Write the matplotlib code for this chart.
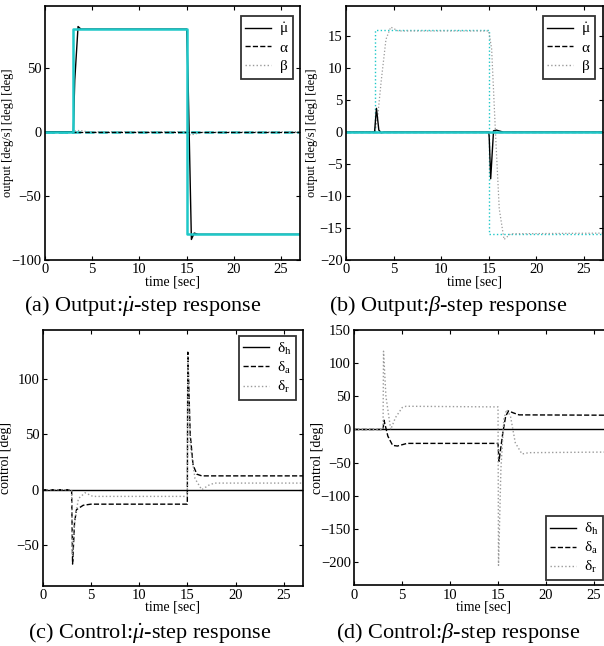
import numpy as np
import matplotlib
matplotlib.use("Agg")
import matplotlib.pyplot as plt
from matplotlib.lines import Line2D

plt.rcParams['font.family'] = ['Liberation Serif', 'DejaVu Serif']
plt.rcParams['mathtext.fontset'] = 'custom'
plt.rcParams['mathtext.rm'] = 'Liberation Serif'
plt.rcParams['mathtext.it'] = 'Liberation Serif:italic'

CYAN = '#1ec8c8'
GREY = '#9a9a9a'

# ---- (a) mu-dot step: references and responses
ref_t = [0, 3, 3, 15, 15, 27]
ref_mu_a = [0, 0, 80, 80, -80, -80]
zero_t = [0, 27]
zero_v = [0, 0]

mu_a_t = [0, 3.0, 3.15, 3.5, 3.8, 4.2, 15.0, 15.15, 15.5, 15.8, 16.2, 27]
mu_a_v = [0, 0, 40, 82, 80, 80, 80, 40, -84, -79, -80, -80]
al_a_t = [0, 27]
al_a_v = [0, 0]
be_a_t = [0, 3, 3.4, 3.8, 4.5, 15, 15.4, 15.8, 16.5, 27]
be_a_v = [0, 0, 1.0, 0.8, 0, 0, -2.5, -2.0, -0.5, 0]

# ---- (b) beta step
ref_be_b = [0, 0, 16, 16, -16, -16]
be_b_t = [0, 3, 3.3, 3.7, 4.2, 4.7, 5.5, 15, 15.3, 15.7, 16.1, 16.6, 17.3, 27]
be_b_v = [0, 0, 2, 8, 14.5, 16.4, 15.8, 15.8, 13, 0, -12, -16.8, -15.9, -15.8]
mu_b_t = [0, 3, 3.2, 3.45, 3.7, 4.0, 15, 15.05, 15.2, 15.5, 15.8, 16.5, 27]
mu_b_v = [0, 0, 3.7, 0.3, -0.1, 0, 0, -1, -7.3, 0.2, 0.3, 0, 0]
al_b_t = [0, 27]
al_b_v = [0, 0]

# ---- (c) controls, mu-dot step
dh_c_t = [0, 27]
dh_c_v = [0, 0]
da_c_t = [0, 3, 3.1, 3.3, 3.5, 4.2, 5, 15, 15.05, 15.3, 15.6, 16, 16.5, 27]
da_c_v = [0, 0, -67, -30, -18, -14, -13, -13, 124, 50, 22, 14, 12.5, 12.5]
dr_c_t = [0, 3, 3.1, 3.3, 3.7, 4.4, 5.2, 15, 15.05, 15.3, 15.8, 16.5, 17.2, 17.8, 27]
dr_c_v = [0, 0, -60, -30, -8, -2.7, -6, -6, 120, 40, 10, 0, 4, 6, 6]

# ---- (d) controls, beta step
dh_d_t = [0, 27]
dh_d_v = [0, 0]
da_d_t = [0, 3, 3.1, 3.5, 4.0, 4.5, 5.5, 15, 15.1, 15.5, 15.8, 16.1, 16.6, 17.2, 27]
da_d_v = [0, 0, 14, -10, -24, -25, -21, -21, -48, -5, 20, 28, 25, 22, 21.5]
dr_d_t = [0, 3, 3.05, 3.3, 3.8, 4.3, 5.0, 5.4, 15, 15.05, 15.3, 15.6, 15.9, 16.3, 16.8, 17.5, 18.2, 27]
dr_d_v = [0, 0, 118, 50, 0, 18, 33, 35, 34, -205, -60, 15, 30, 20, -20, -37, -35, -34]

W, H = 604, 646
fig = plt.figure(figsize=(W / 100, H / 100), dpi=100)


def make_ax(x0, x1, y0, y1):
    return fig.add_axes([x0 / W, 1 - y1 / H, (x1 - x0) / W, (y1 - y0) / H])


def style(ax, ylim, yticks, ylabel, ylsize, ylx, x0, x1):
    ax.set_xlim(0, 27)
    ax.set_ylim(*ylim)
    ax.set_xticks([0, 5, 10, 15, 20, 25])
    ax.set_yticks(yticks)
    ax.set_yticklabels([str(v).replace('-', '\u2212') for v in yticks])
    ax.tick_params(direction='in', top=True, right=True, labelsize=10.5,
                   length=3, width=0.8, pad=2.5)
    ax.set_xlabel('time [sec]', fontsize=10, labelpad=-1)
    ax.set_ylabel(ylabel, fontsize=ylsize)
    ax.yaxis.set_label_coords((ylx - x0) / (x1 - x0), 0.5)
    for s in ax.spines.values():
        s.set_linewidth(1.2)


legend_kw = dict(fontsize=11, frameon=True, fancybox=False, edgecolor='black',
                 handlelength=1.7, handletextpad=0.5, borderpad=0.3,
                 labelspacing=0.2, borderaxespad=0)

h_out = [Line2D([], [], color='black', lw=1, ls='-'),
         Line2D([], [], color='black', lw=1, ls='--'),
         Line2D([], [], color=GREY, lw=1, ls=':')]
lab_out = [r'$\mathrm{\dot{\mu}}$', r'$\mathrm{\alpha}$', r'$\mathrm{\beta}$']
lab_ctl = [r'$\mathrm{\delta}_\mathrm{h}$', r'$\mathrm{\delta}_\mathrm{a}$',
           r'$\mathrm{\delta}_\mathrm{r}$']

CAP = 16


def add_legend(ax, labels, loc, x, y):
    leg = ax.legend(h_out, labels, loc=loc, bbox_to_anchor=(x / W, 1 - y / H),
                    bbox_transform=fig.transFigure, **legend_kw)
    leg.get_frame().set_linewidth(1.3)


# (a)
ax = make_ax(45, 300, 6, 260)
ax.plot(zero_t, zero_v, color=CYAN, lw=1.8, ls='--')
ax.plot(be_a_t, be_a_v, color=GREY, lw=0.9, ls=':')
ax.plot(al_a_t, al_a_v, color='black', lw=0.9, ls='--')
ax.plot(mu_a_t, mu_a_v, color='black', lw=1.0)
ax.plot(ref_t, ref_mu_a, color=CYAN, lw=1.8)
style(ax, (-100, 98), [-100, -50, 0, 50], 'output [deg/s] [deg] [deg]', 9, 14, 45, 300)
add_legend(ax, lab_out, 'upper right', 293, 16)
fig.text(143 / W, 1 - 311 / H, r'(a) Output:$\dot{\mu}$-step response',
         fontsize=CAP, ha='center', va='baseline')

# (b)
ax = make_ax(346, 603, 6, 260)
ax.plot(ref_t, ref_be_b, color=CYAN, lw=1.0, ls=':')
ax.plot(be_b_t, be_b_v, color=GREY, lw=0.9, ls=':')
ax.plot(al_b_t, al_b_v, color='black', lw=0.9, ls='--')
ax.plot(mu_b_t, mu_b_v, color='black', lw=1.0)
ax.plot(zero_t, zero_v, color=CYAN, lw=1.8)
style(ax, (-20, 19.7), [-20, -15, -10, -5, 0, 5, 10, 15],
      'output [deg/s] [deg] [deg]', 9, 318, 346, 603)
add_legend(ax, lab_out, 'upper right', 595, 16)
fig.text(448 / W, 1 - 311 / H, r'(b) Output:$\beta$-step response',
         fontsize=CAP, ha='center', va='baseline')

# (c)
ax = make_ax(42.7, 303, 330, 585.7)
ax.plot(dh_c_t, dh_c_v, color='black', lw=1.0)
ax.plot(da_c_t, da_c_v, color='black', lw=1.0, ls='--')
ax.plot(dr_c_t, dr_c_v, color=GREY, lw=1.0, ls=':')
style(ax, (-86.5, 144), [-50, 0, 50, 100], 'control [deg]', 10, 12, 42.7, 303)
add_legend(ax, lab_ctl, 'upper right', 296, 336)
fig.text(150 / W, 1 - 638 / H, r'(c) Control:$\dot{\mu}$-step response',
         fontsize=CAP, ha='center', va='baseline')

# (d)
ax = make_ax(354.3, 613, 330, 585.3)
ax.plot(dh_d_t, dh_d_v, color='black', lw=1.0)
ax.plot(da_d_t, da_d_v, color='black', lw=1.0, ls='--')
ax.plot(dr_d_t, dr_d_v, color=GREY, lw=1.0, ls=':')
style(ax, (-235, 150), [-200, -150, -100, -50, 0, 50, 100, 150], 'control [deg]', 10,
      324, 354.3, 613)
add_legend(ax, lab_ctl, 'lower right', 603, 580)
fig.text(458 / W, 1 - 638 / H, r'(d) Control:$\beta$-step response',
         fontsize=CAP, ha='center', va='baseline')

fig.savefig('out.png', dpi=100)
